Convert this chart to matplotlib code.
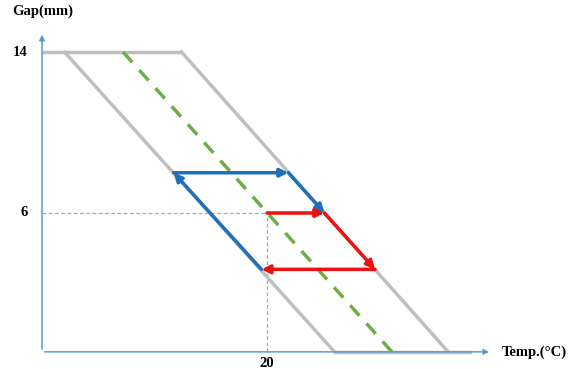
import matplotlib.pyplot as plt

# schematic coordinates (temperature, gap)
y_top = 14
y_base = -0.9
gray_top_x = [0, 12.4]
gray_left_x = [2.0, 26.0]
gray_right_x = [12.4, 36.1]
gray_bottom_x = [26.0, 38.0]
green_x = [7.2, 31.1]

blue_x = [19.5, 11.7, 21.9, 25.1]
blue_y = [3.2, 8.0, 8.0, 6.0]
red_x = [20.0, 25.1, 29.6, 19.5]
red_y = [6.0, 6.0, 3.2, 3.2]

ref_temp = 20
ref_gap = 6
ytick_vals = [14, 6]
xtick_vals = [20]

GRAY = "#bfbfbf"
BLUE = "#1f6fb8"
RED = "#ee1111"
GREEN = "#70ad47"
AXIS = "#5b9bd5"
DOT = "#93aad4"

fig = plt.figure(figsize=(5.78, 3.69), dpi=100)
ax = fig.add_axes([0, 0, 1, 1])
ax.set_xlim(-3.733, 47.64)
ax.set_ylim(-1.752, 16.584)
ax.axis("off")

# axes with arrows
ax.annotate("", xy=(40.0, y_base), xytext=(0, y_base),
            arrowprops=dict(arrowstyle="-|>", color=AXIS, lw=1.1, mutation_scale=8))
ax.annotate("", xy=(0, 15.0), xytext=(0, y_base),
            arrowprops=dict(arrowstyle="-|>", color=AXIS, lw=1.1, mutation_scale=8))

# reference dotted lines
ax.plot([0, ref_temp], [ref_gap, ref_gap], color=DOT, lw=0.9, ls=(0, (3, 2)))
ax.plot([ref_temp, ref_temp], [y_base, ref_gap], color=DOT, lw=0.9, ls=(0, (3, 2)))

# gray boundary
ax.plot(gray_top_x, [y_top, y_top], color=GRAY, lw=2.5, solid_capstyle="butt")
ax.plot(gray_left_x, [y_top, y_base], color=GRAY, lw=2.5)
ax.plot(gray_right_x, [y_top, y_base], color=GRAY, lw=2.5)
ax.plot(gray_bottom_x, [y_base, y_base], color=GRAY, lw=2.5)

# green centre line
ax.plot(green_x, [y_top, y_base], color=GREEN, lw=2.5, ls=(0, (4, 3)))


def draw_path(xs, ys, color):
    for i in range(len(xs) - 1):
        ax.annotate("", xy=(xs[i + 1], ys[i + 1]), xytext=(xs[i], ys[i]),
                    arrowprops=dict(arrowstyle="-|>", color=color, lw=2.5,
                                    mutation_scale=12, shrinkA=0, shrinkB=0))


draw_path(blue_x, blue_y, BLUE)
draw_path(red_x, red_y, RED)

font = dict(family="Liberation Serif", fontweight="bold", fontsize=10.5)
for v in ytick_vals:
    ax.text(-1.3, v, str(v), ha="right", va="center", **font)
for v in xtick_vals:
    ax.text(v, -1.18, str(v), ha="center", va="top", **font)
ax.text(0.05, 16.0, "Gap(mm)", ha="center", va="center", **font)
ax.text(40.9, y_base, "Temp.(°C)", ha="left", va="center", **font)

fig.savefig("out.png", dpi=100)
